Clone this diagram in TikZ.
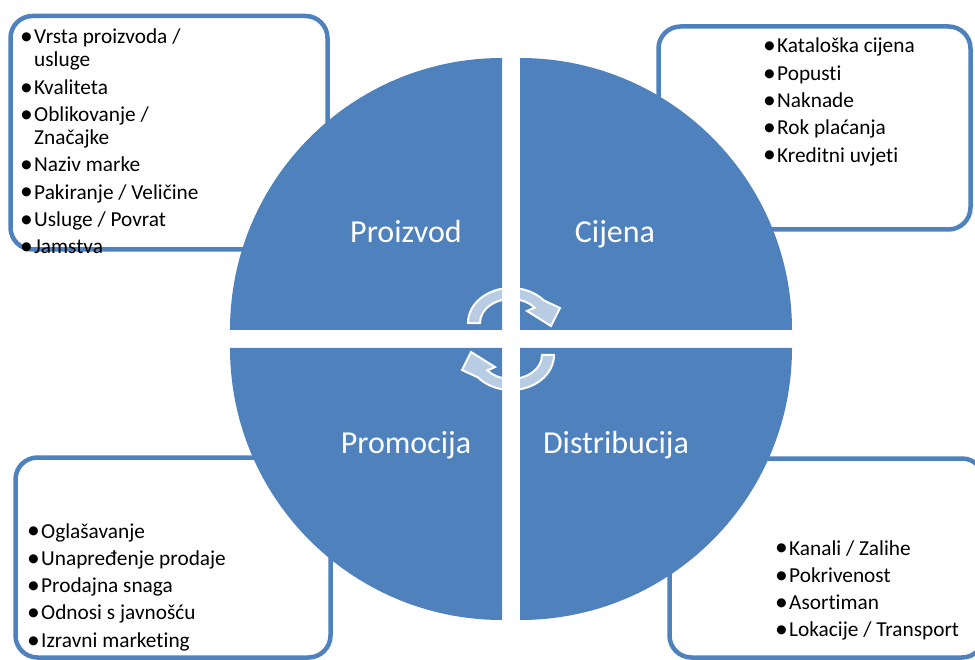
\documentclass[tikz,border=0pt]{standalone}
\usepackage{fontspec}
\setmainfont{Carlito}[Ligatures=CommonOff]
\definecolor{qblue}{HTML}{4F81BD}
\newcommand\bul{\makebox[0pt][l]{\hspace{-5pt}\raisebox{-0.8pt}{\scalebox{1.2}{•}}}\hspace{9pt}}
\newcommand\cont{\hspace{9pt}}
\begin{document}
\begin{tikzpicture}[x=1pt,y=-1pt,
  box/.style={draw=qblue, line width=4.5pt, rounded corners=22pt},
  quad/.style={fill=qblue},
  qlabel/.style={text=white, font=\fontsize{32}{38}\selectfont, inner sep=0, anchor=base},
  blist/.style={anchor=base west, inner sep=0, font=\fontsize{21.3}{23}\selectfont},
  arr/.style={draw=white, line width=2pt, fill=white, fill opacity=0.6, line join=miter}]
\useasboundingbox (0,0) rectangle (975,660);
% outer boxes
\draw[box] (10.5,16) rectangle (327.5,249.5);
\draw[box] (658.5,26.5) rectangle (970.5,229.5);
\draw[box] (15.5,457.5) rectangle (330.5,657.5);
\draw[box] (669.5,458.5) rectangle (984,657.5);
% quadrants
\fill[quad] (502,330) -- (230,330) arc[start angle=180,end angle=270,radius=272] -- cycle;
\fill[quad] (520,330) -- (520,58) arc[start angle=270,end angle=360,radius=272] -- cycle;
\fill[quad] (520,348) -- (792,348) arc[start angle=0,end angle=90,radius=272] -- cycle;
\fill[quad] (502,348) -- (502,620) arc[start angle=90,end angle=180,radius=272] -- cycle;
% circular arrows
\filldraw[arr] (468,323) arc[start angle=180,end angle=320,x radius=43,y radius=35]
  -- (560,308) -- (551,326) -- (527,311) -- (534.7,307.6)
  arc[start angle=320,end angle=180,x radius=31,y radius=24] -- cycle;
\filldraw[arr, rotate around={180:(511,339)}] (468,323) arc[start angle=180,end angle=320,x radius=43,y radius=35]
  -- (560,308) -- (551,326) -- (527,311) -- (534.7,307.6)
  arc[start angle=320,end angle=180,x radius=31,y radius=24] -- cycle;
% quadrant labels
\node[qlabel] (p1) at (406,243) {Proizvod};
\node[qlabel] (p2) at (615,243) {Cijena};
\node[qlabel] (p3) at (406,453) {Promocija};
\node[qlabel] (p4) at (616,453) {Distribucija};
% lists
\node[blist] (tl) at (25,44) {\begin{tabular}[t]{@{}l@{}}
\bul Vrsta proizvoda /\\ \cont usluge\\[4.3pt]
\bul Kvaliteta\\[4.3pt]
\bul Oblikovanje /\\ \cont Značajke\\[4.3pt]
\bul Naziv marke\\[4.3pt]
\bul Pakiranje / Veličine\\[4.3pt]
\bul Usluge / Povrat\\[4.3pt]
\bul Jamstva
\end{tabular}};
\node[blist] (tr) at (768,53) {\begin{tabular}[t]{@{}l@{}}
\bul Kataloška cijena\\[4.3pt]
\bul Popusti\\[4.3pt]
\bul Naknade\\[4.3pt]
\bul Rok plaćanja\\[4.3pt]
\bul Kreditni uvjeti
\end{tabular}};
\node[blist] (bl) at (32,538) {\begin{tabular}[t]{@{}l@{}}
\bul Oglašavanje\\[4.3pt]
\bul Unapređenje prodaje\\[4.3pt]
\bul Prodajna snaga\\[4.3pt]
\bul Odnosi s javnošću\\[4.3pt]
\bul Izravni marketing
\end{tabular}};
\node[blist] (br) at (780,555) {\begin{tabular}[t]{@{}l@{}}
\bul Kanali / Zalihe\\[4.3pt]
\bul Pokrivenost\\[4.3pt]
\bul Asortiman\\[4.3pt]
\bul Lokacije / Transport
\end{tabular}};
\end{tikzpicture}
\end{document}
